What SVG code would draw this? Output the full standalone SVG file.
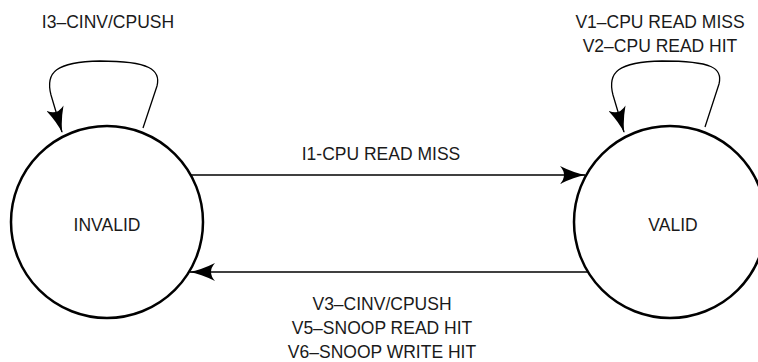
<svg xmlns="http://www.w3.org/2000/svg" width="758" height="362" viewBox="0 0 758 362">
<style>
.state{fill:#fff;stroke:#000;stroke-width:2.5}
.conn{fill:none;stroke:#000;stroke-width:1.3}
text{font-family:"Liberation Sans",Arial,sans-serif;font-size:17.5px;fill:#1a1a1a;text-anchor:middle}
</style>
<defs>
<marker id="arr" markerUnits="userSpaceOnUse" viewBox="0 0 26 18" refX="25" refY="9" markerWidth="26" markerHeight="18" orient="auto">
<path d="M0,0 Q14,7 26,9 Q14,11 0,18 Q8,9 0,0 Z" fill="#000"/>
</marker>
</defs>
<g id="invalid">
<circle class="state" cx="107" cy="222" r="96"/>
<text x="107" y="231">INVALID</text>
</g>
<g id="valid">
<circle class="state" cx="670" cy="222" r="96"/>
<text x="673" y="231">VALID</text>
</g>
<g id="connectors">
<path class="conn" d="M191,175 L585,175" marker-end="url(#arr)"/>
<path class="conn" d="M588,272 L190,272" marker-end="url(#arr)"/>
<path class="conn" d="M143,128 L157,86 C161,70 150,61 100,61 C56,62 45,72 51,95 L62,132" marker-end="url(#arr)"/>
<path class="conn" d="M705,127 L719,84 C723,68 712,61 662,61 C618,62 607,72 613,95 L624,132" marker-end="url(#arr)"/>
</g>
<g id="labels">
<text x="108" y="28">I3–CINV/CPUSH</text>
<text x="660" y="28">V1–CPU READ MISS</text>
<text x="660" y="52">V2–CPU READ HIT</text>
<text x="381" y="160">I1-CPU READ MISS</text>
<text x="382" y="310">V3–CINV/CPUSH</text>
<text x="382" y="334">V5–SNOOP READ HIT</text>
<text x="382" y="358">V6–SNOOP WRITE HIT</text>
</g>
</svg>
